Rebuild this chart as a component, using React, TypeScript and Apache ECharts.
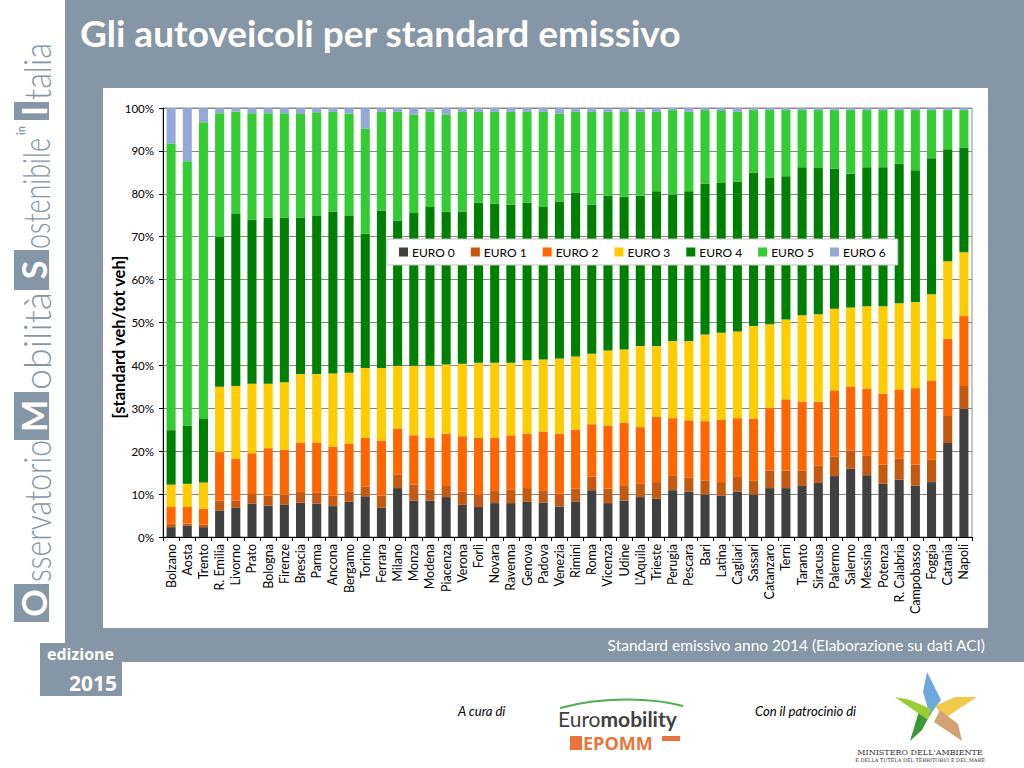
import React, { useEffect, useRef } from "react";
import * as echarts from "echarts";

const categories = [
  "Bolzano", "Aosta", "Trento", "R. Emilia", "Livorno", "Prato", "Bologna", "Firenze", "Brescia", "Parma",
  "Ancona", "Bergamo", "Torino", "Ferrara", "Milano", "Monza", "Modena", "Piacenza", "Verona", "Forlì",
  "Novara", "Ravenna", "Genova", "Padova", "Venezia", "Rimini", "Roma", "Vicenza", "Udine", "L'Aquila",
  "Trieste", "Perugia", "Pescara", "Bari", "Latina", "Cagliari", "Sassari", "Catanzaro", "Terni", "Taranto",
  "Siracusa", "Palermo", "Salerno", "Messina", "Potenza", "R. Calabria", "Campobasso", "Foggia", "Catania", "Napoli",
];

const seriesNames = ["EURO 0", "EURO 1", "EURO 2", "EURO 3", "EURO 4", "EURO 5", "EURO 6"];

const euro0 = [
  2.3, 2.7, 2.3, 6.2, 6.8, 7.8, 7.3, 7.5, 8.0, 7.8,
  7.2, 8.2, 9.5, 6.8, 11.4, 8.5, 8.5, 9.3, 7.5, 7.0,
  7.9, 7.9, 8.2, 8.0, 7.1, 8.3, 10.9, 7.9, 8.5, 9.3,
  8.9, 10.9, 10.6, 9.9, 9.6, 10.6, 9.9, 11.4, 11.4, 11.9,
  12.6, 14.2, 15.9, 14.4, 12.4, 13.4, 12.0, 12.8, 21.9, 29.9,
];
const euro1 = [
  0.8, 0.4, 0.6, 2.3, 1.7, 2.2, 2.4, 2.3, 2.5, 2.5,
  2.5, 2.3, 2.3, 2.9, 3.1, 3.7, 2.6, 2.6, 3.1, 2.9,
  3.0, 3.1, 3.2, 2.9, 3.0, 3.0, 3.2, 3.4, 3.4, 3.1,
  3.9, 3.5, 3.2, 3.3, 3.2, 3.4, 3.3, 4.1, 4.1, 3.6,
  4.1, 4.6, 4.3, 4.5, 4.5, 4.9, 4.9, 5.2, 6.3, 5.3,
];
const euro2 = [
  3.9, 3.9, 3.7, 11.3, 9.7, 9.5, 11.0, 10.5, 11.5, 11.7,
  11.3, 11.3, 11.3, 12.8, 10.8, 11.5, 12.0, 12.2, 12.9, 13.2,
  12.2, 12.7, 12.7, 13.7, 14.0, 13.7, 12.2, 14.7, 14.7, 13.2,
  15.2, 13.3, 13.4, 13.8, 14.6, 13.7, 14.4, 14.6, 16.6, 16.0,
  14.8, 15.4, 14.9, 15.7, 16.5, 16.1, 17.8, 18.5, 18.0, 16.3,
];
const euro3 = [
  5.2, 5.4, 6.1, 15.2, 17.0, 16.2, 15.0, 15.8, 16.0, 16.0,
  17.1, 16.5, 16.3, 16.9, 14.6, 16.2, 16.8, 16.1, 16.9, 17.5,
  17.5, 16.9, 17.1, 16.8, 17.5, 17.1, 16.4, 17.5, 17.1, 18.9,
  16.5, 18.0, 18.5, 20.2, 20.2, 20.2, 21.6, 19.5, 18.6, 20.2,
  20.4, 19.0, 18.4, 19.2, 20.4, 20.1, 20.1, 20.1, 18.1, 14.9,
];
const euro4 = [
  12.7, 13.6, 14.8, 35.0, 40.1, 38.3, 38.8, 38.4, 36.5, 36.8,
  37.8, 36.5, 31.3, 36.7, 33.9, 35.6, 37.0, 35.6, 35.5, 37.3,
  37.1, 36.9, 36.7, 35.5, 36.6, 38.1, 34.8, 36.0, 35.6, 35.1,
  36.1, 34.1, 34.9, 35.2, 34.9, 34.9, 35.7, 34.1, 33.4, 34.5,
  34.1, 32.7, 31.2, 32.4, 32.4, 32.5, 30.7, 31.7, 26.1, 24.3,
];
const euro5 = [
  66.8, 61.6, 69.2, 28.8, 23.9, 24.8, 24.3, 24.3, 24.1, 24.2,
  23.2, 23.9, 24.5, 23.0, 25.3, 23.0, 22.2, 22.6, 23.2, 21.2,
  21.4, 21.6, 21.2, 22.2, 20.5, 18.9, 21.6, 19.6, 19.8, 19.5,
  18.5, 19.7, 18.5, 17.1, 16.8, 16.3, 14.6, 15.8, 15.4, 13.3,
  13.5, 13.6, 14.8, 13.3, 13.3, 12.5, 14.0, 11.2, 9.1, 8.8,
];
const euro6 = [
  8.3, 12.4, 3.3, 1.2, 0.8, 1.2, 1.2, 1.2, 1.4, 1.0,
  0.9, 1.3, 4.8, 0.9, 0.9, 1.5, 0.9, 1.6, 0.9, 0.9,
  0.9, 0.9, 0.9, 0.9, 1.3, 0.9, 0.9, 0.9, 0.9, 0.9,
  0.9, 0.5, 0.9, 0.5, 0.7, 0.9, 0.5, 0.5, 0.5, 0.5,
  0.5, 0.5, 0.5, 0.5, 0.5, 0.5, 0.5, 0.5, 0.5, 0.5,
];

const seriesData = [euro0, euro1, euro2, euro3, euro4, euro5, euro6];
const seriesColors = ["#404040", "#C65911", "#FF6600", "#FFCC00", "#008000", "#33CC33", "#95A9D6"];

const yTicks = [0, 10, 20, 30, 40, 50, 60, 70, 80, 90, 100];

const GRAY = "#8597A6";
const FONT = "Lato, 'Open Sans', sans-serif";

function measure(text: string, font: string): number {
  const c = document.createElement("canvas");
  const ctx = c.getContext("2d");
  if (!ctx) return text.length * 10;
  ctx.font = font;
  return ctx.measureText(text).width;
}

function fittedWord(text: string, start: number, len: number): any {
  const font = "300 38px Lato";
  const w = measure(text, font) || len;
  return {
    type: "text",
    x: start,
    y: 22,
    scaleX: len / w,
    style: { text, fill: GRAY, font, align: "left", verticalAlign: "middle" },
  };
}

function capBox(letter: string, start: number, len: number): any[] {
  return [
    { type: "rect", shape: { x: start, y: 0, width: len, height: 35 }, style: { fill: GRAY } },
    {
      type: "text",
      x: start + len / 2,
      y: 19,
      style: { text: letter, fill: "#fff", font: "bold 34px Lato", align: "center", verticalAlign: "middle" },
    },
  ];
}

export default function App() {
  const ref = useRef<HTMLDivElement>(null);

  useEffect(() => {
    if (!ref.current) return;
    const chart = echarts.init(ref.current, undefined, { renderer: "svg" });

    const logoChildren: any[] = [
      ...capBox("O", 0, 38),
      fittedWord("sservatorio", 40, 142),
      ...capBox("M", 182, 48),
      fittedWord("obilità", 232, 98),
      ...capBox("S", 332, 40),
      fittedWord("ostenibile", 373, 111),
      {
        type: "text",
        x: 487,
        y: 6,
        style: { text: "in", fill: GRAY, font: "bold 11px Lato", align: "left", verticalAlign: "middle" },
      },
      ...capBox("I", 502, 18),
      fittedWord("talia", 522, 57),
    ];

    const option: any = {
      animation: false,
      backgroundColor: "#ffffff",
      textStyle: { fontFamily: FONT },
      grid: {
        left: 163,
        right: 52,
        top: 108,
        bottom: 231,
        show: true,
        borderColor: "#8c8c8c",
        borderWidth: 1,
        backgroundColor: "transparent",
      },
      legend: {
        data: seriesNames,
        left: 387,
        top: 239,
        orient: "horizontal",
        padding: [7, 12, 7, 12],
        itemGap: 16,
        itemWidth: 9,
        itemHeight: 9,
        icon: "rect",
        backgroundColor: "#ffffff",
        borderColor: "#bfbfbf",
        borderWidth: 1,
        selectedMode: false,
        textStyle: { fontSize: 12, color: "#000", fontFamily: FONT, padding: [0, 0, 0, -1] },
        z: 10,
      },
      xAxis: {
        type: "category",
        data: categories,
        axisLine: { show: true, lineStyle: { color: "#000", width: 1 } },
        axisTick: { show: true, length: 4, lineStyle: { color: "#000" }, interval: 0 },
        axisLabel: { rotate: 90, interval: 0, fontSize: 12.5, color: "#000", margin: 7, fontFamily: FONT },
        splitLine: { show: false },
      },
      yAxis: {
        type: "value",
        min: yTicks[0],
        max: yTicks[yTicks.length - 1],
        interval: 10,
        axisLine: { show: true, lineStyle: { color: "#000", width: 1 } },
        axisTick: { show: true, length: 4, lineStyle: { color: "#000" } },
        axisLabel: { formatter: "{value}%", fontSize: 11.5, color: "#000", margin: 9, fontFamily: FONT },
        splitLine: { show: true, lineStyle: { color: "#868686", width: 1 } },
      },
      series: seriesNames.map((name, i) => ({
        name,
        type: "bar",
        stack: "total",
        barWidth: "56%",
        data: seriesData[i],
        itemStyle: { color: seriesColors[i] },
        emphasis: { disabled: true },
      })),
      graphic: [
        { type: "rect", z: -10, shape: { x: 65, y: 0, width: 959, height: 662 }, style: { fill: GRAY } },
        { type: "rect", z: -10, shape: { x: 40, y: 643, width: 82, height: 53 }, style: { fill: GRAY } },
        { type: "rect", z: -9, shape: { x: 103, y: 88, width: 885, height: 540 }, style: { fill: "#ffffff" } },
        {
          type: "text",
          x: 80,
          y: 32,
          style: {
            text: "Gli autoveicoli per standard emissivo",
            fill: "#ffffff",
            font: "bold 37px Lato",
            align: "left",
            verticalAlign: "middle",
          },
        },
        {
          type: "text",
          x: 119,
          y: 337,
          rotation: Math.PI / 2,
          style: {
            text: "[standard veh/tot veh]",
            fill: "#000",
            font: "bold 16.5px Lato",
            align: "center",
            verticalAlign: "middle",
          },
        },
        {
          type: "text",
          x: 985,
          y: 645,
          style: {
            text: "Standard emissivo anno 2014 (Elaborazione su dati ACI)",
            fill: "#ffffff",
            font: "15.5px Lato",
            align: "right",
            verticalAlign: "middle",
          },
        },
        {
          type: "text",
          x: 47,
          y: 654,
          style: { text: "edizione", fill: "#ffffff", font: "bold 16px 'Open Sans'", align: "left", verticalAlign: "middle" },
        },
        {
          type: "text",
          x: 117,
          y: 683,
          style: { text: "2015", fill: "#ffffff", font: "bold 21px 'Open Sans'", align: "right", verticalAlign: "middle" },
        },
        { type: "group", x: 14, y: 622, rotation: Math.PI / 2, children: logoChildren },
        {
          type: "text",
          x: 458,
          y: 711,
          style: { text: "A cura di", fill: "#000", font: "italic 13px Lato", align: "left", verticalAlign: "middle" },
        },
        {
          type: "text",
          x: 755,
          y: 711,
          style: { text: "Con il patrocinio di", fill: "#000", font: "italic 13px Lato", align: "left", verticalAlign: "middle" },
        },
        {
          type: "bezierCurve",
          shape: { x1: 560, y1: 708, x2: 683, y2: 706, cpx1: 600, cpy1: 697, cpx2: 650, cpy2: 697 },
          style: { stroke: "#4CAF50", lineWidth: 2, fill: null },
        },
        {
          type: "text",
          x: 558,
          y: 718,
          style: {
            text: "{a|Euro}{b|mobility}",
            align: "left",
            verticalAlign: "middle",
            rich: {
              a: { font: "21px Lato", fill: "#404040" },
              b: { font: "bold 21px Lato", fill: "#404040" },
            },
          },
        },
        { type: "rect", shape: { x: 570, y: 736, width: 12, height: 14 }, style: { fill: "#E8743B" } },
        {
          type: "text",
          x: 583,
          y: 743,
          style: { text: "EPOMM", fill: "#E8743B", font: "bold 18px 'Open Sans'", align: "left", verticalAlign: "middle" },
        },
        { type: "rect", shape: { x: 662, y: 736, width: 18, height: 5 }, style: { fill: "#E8743B" } },
        { type: "polygon", shape: { points: [[930, 715], [923, 692], [927, 672], [941, 700]] }, style: { fill: "#6FA8DC" } },
        { type: "polygon", shape: { points: [[935, 706], [955, 697], [977, 697], [945, 718]] }, style: { fill: "#F2C94C" } },
        { type: "polygon", shape: { points: [[940, 710], [958, 724], [962, 741], [934, 722]] }, style: { fill: "#D4A373" } },
        { type: "polygon", shape: { points: [[931, 713], [922, 730], [910, 741], [919, 711]] }, style: { fill: "#3A9A3A" } },
        { type: "polygon", shape: { points: [[931, 709], [910, 700], [895, 697], [928, 720]] }, style: { fill: "#9ACD32" } },
        {
          type: "text",
          x: 920,
          y: 752,
          style: {
            text: "MINISTERO DELL'AMBIENTE",
            fill: "#333",
            font: "8px 'DejaVu Serif'",
            align: "center",
            verticalAlign: "middle",
          },
        },
        {
          type: "text",
          x: 920,
          y: 760,
          style: {
            text: "E DELLA TUTELA DEL TERRITORIO E DEL MARE",
            fill: "#333",
            font: "5px 'DejaVu Serif'",
            align: "center",
            verticalAlign: "middle",
          },
        },
      ],
    };

    chart.setOption(option);
    return () => chart.dispose();
  }, []);

  return (
    <div
      ref={ref}
      style={{ position: "fixed", left: 0, top: 0, width: 1024, height: 768, background: "#fff" }}
    />
  );
}
